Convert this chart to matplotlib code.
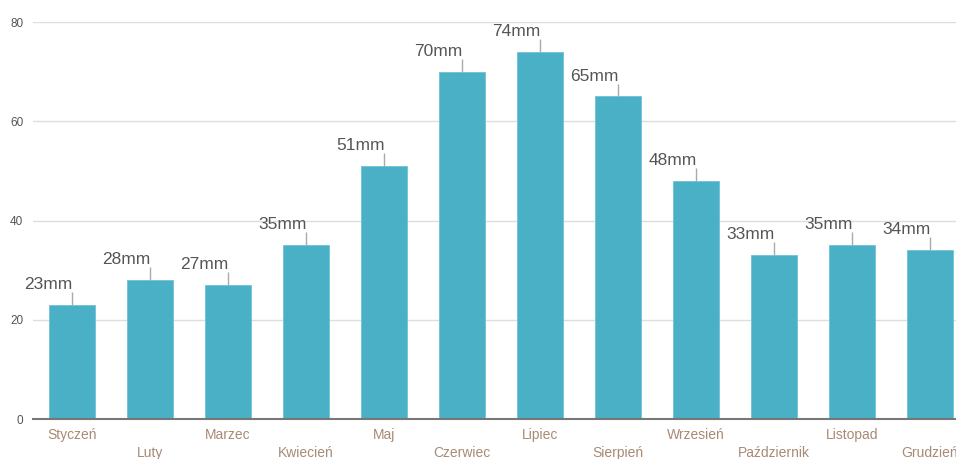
import matplotlib.pyplot as plt
import numpy as np

months = ['Styczeń', 'Luty', 'Marzec', 'Kwiecień', 'Maj', 'Czerwiec',
          'Lipiec', 'Sierpień', 'Wrzesień', 'Październik', 'Listopad', 'Grudzień']
rain = [23, 28, 27, 35, 51, 70, 74, 65, 48, 33, 35, 34]
yticks = [0, 20, 40, 60, 80]

plt.rcParams['font.family'] = ['Liberation Sans', 'DejaVu Sans']

fig = plt.figure(figsize=(9.56, 4.59), dpi=100)
# plot area runs past the right edge, like the original crop
ax = fig.add_axes([33/956, 1 - 419/459, 936/956, 397/459])

x = np.arange(len(months))
ax.bar(x, rain, width=0.6, color='#4ab0c6', edgecolor='#6cc3d5', linewidth=0.6, zorder=3)

for i, v in enumerate(rain):
    ax.vlines(i, v, v + 2.6, color='#aaaaaa', linewidth=1, zorder=2)
    ax.text(i + 0.01, v + 4.1, str(v) + 'mm', ha='right', va='center',
            fontsize=12.5, color='#555555')

ax.set_xlim(-0.5, len(months) - 0.5)
ax.set_ylim(0, 80)
ax.set_yticks(yticks)
ax.set_yticklabels([str(t) for t in yticks], fontsize=8.5, color='#555555')
ax.yaxis.grid(True, color='#dddddd', linewidth=1, zorder=0)
ax.set_axisbelow(True)
ax.tick_params(axis='y', length=0, pad=7)
ax.tick_params(axis='x', length=0)
ax.set_xticks(x)
ax.set_xticklabels([])
for i, m in enumerate(months):
    dy = -16 if i % 2 == 0 else -34
    ax.annotate(m, (i, 0), xytext=(0, dy), textcoords='offset pixels',
                ha='center', va='center', fontsize=10, color='#a88a75',
                annotation_clip=False)

for s in ['top', 'right', 'left']:
    ax.spines[s].set_visible(False)
ax.spines['bottom'].set_color('#777777')
ax.spines['bottom'].set_linewidth(1.5)
ax.spines['bottom'].set_zorder(4)

plt.savefig('out.png', dpi=100)
